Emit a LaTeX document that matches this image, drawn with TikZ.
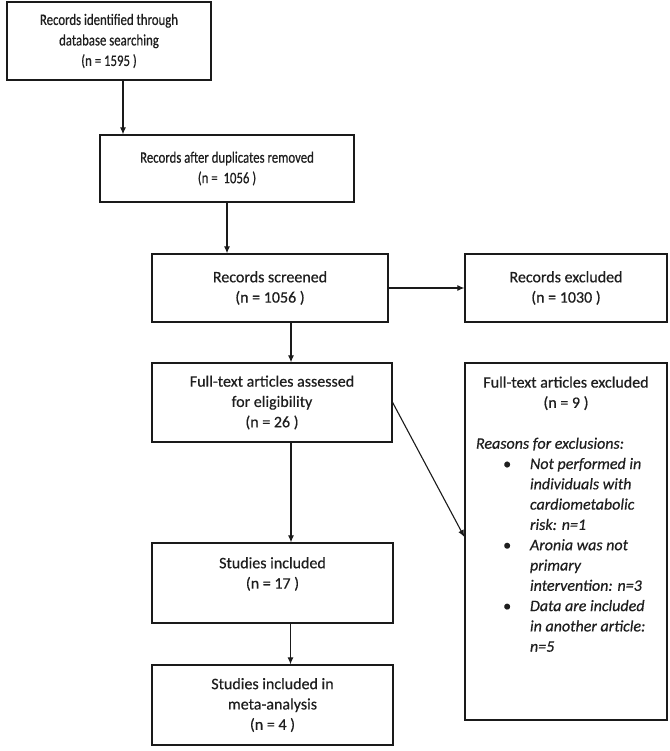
\documentclass[tikz,border=0pt]{standalone}
\usepackage{fontspec}
\setmainfont{Carlito}[FakeBold=0.5]
\newfontfamily\narrowfont{Carlito}[FakeStretch=0.8, FakeBold=0.5]
\usepackage{tikz}
\usetikzlibrary{arrows.meta}
\definecolor{boxline}{HTML}{1A1A1A}
\definecolor{boxtext}{HTML}{1E1E1E}

\begin{document}
\begin{tikzpicture}[x=1pt, y=-1pt,
    box/.style={draw=boxline, line width=1.3pt, align=center, inner sep=0pt, text=boxtext},
    narrow/.style={font=\narrowfont\fontsize{16}{20.5}\selectfont},
    arr/.style={-{Latex[length=7pt,width=6pt]}, line width=1.1pt, draw=boxline},
    font=\fontsize{16}{20.3}\selectfont
]
  \useasboundingbox (0,0) rectangle (669,751);

  % Identifikation
  \node[box, narrow, minimum width=204pt, minimum height=78pt] (ident) at (109,41)
    {Records identified through\\database searching\\(n = 1595 )};
  \node[box, narrow, minimum width=254pt, minimum height=67pt] (dedup) at (227,168.5)
    {Records after duplicates removed\\(n =\ \ 1056 )};

  % Screening
  \node[box, minimum width=236pt, minimum height=68pt] (screen) at (270,288)
    {Records screened\\(n = 1056 )};
  \node[box, minimum width=202pt, minimum height=68pt] (excl) at (566,288)
    {Records excluded\\(n = 1030 )};

  % Eignung
  \node[box, minimum width=240pt, minimum height=79pt] (full) at (272,402.5)
    {Full-text articles assessed\\for eligibility\\(n = 26 )};
  \node[box, inner xsep=11pt, inner ysep=13.5pt] (fullexcl) at (566,541.5)
    {\parbox[c][330pt][t]{180pt}{%
      {\centering Full-text articles excluded\\(n = 9 )\par}
      \vspace{20.5pt}
      \raggedright\textit{Reasons for exclusions:}\par
      \begin{list}{\makebox[0pt]{\textbullet}}{%
          \setlength\leftmargin{54pt}\setlength\labelwidth{0pt}%
          \setlength\labelsep{23pt}\setlength\itemsep{0pt}%
          \setlength\parsep{0pt}\setlength\topsep{0pt}\setlength\partopsep{0pt}}
        \itshape
        \item Not performed in\newline individuals with\newline cardiometabolic\newline risk: n=1
        \item Aronia was not\newline primary\newline intervention: n=3
        \item Data are included\newline in another article:\newline n=5
      \end{list}}};

  % Eingeschlossen
  \node[box, minimum width=241pt, minimum height=80pt] (incl) at (272.5,583)
    {Studies included\\(n = 17 )\\~};
  \node[box, minimum width=241pt, minimum height=80pt] (meta) at (272.5,705)
    {Studies included in\\meta-analysis\\(n = 4 )};

  % Pfeile
  \draw[arr] ([xshift=14pt]ident.south) -- ([xshift=14pt]ident.south |- dedup.north);
  \draw[arr] (dedup.south) -- (dedup.south |- screen.north);
  \draw[arr] (screen.east) -- (excl.west);
  \draw[arr] ([xshift=21pt]screen.south) -- ([xshift=21pt]screen.south |- full.north);
  \draw[arr] (full.east) -- ([yshift=4.5pt]fullexcl.west);
  \draw[arr] ([xshift=19pt]full.south) -- ([xshift=19pt]full.south |- incl.north);
  \draw[arr] ([xshift=18pt]incl.south) -- ([xshift=18pt]incl.south |- meta.north);

\end{tikzpicture}
\end{document}
